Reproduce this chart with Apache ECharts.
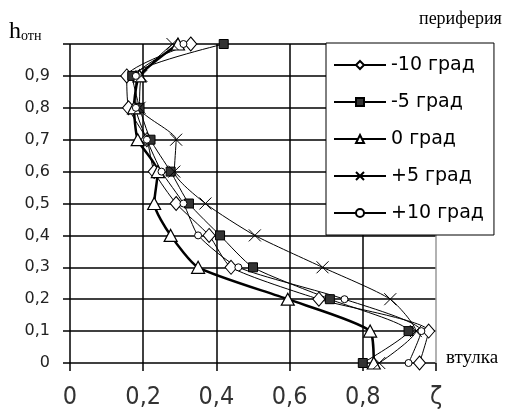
<!DOCTYPE html>
<html>
<head>
<meta charset="utf-8">
<script src="https://cdn.jsdelivr.net/npm/echarts@6/dist/echarts.min.js"></script>
<style>
html, body { margin: 0; background: #fff; }
#main { width: 520px; height: 412px; }
</style>
</head>
<body>
<div id="main"></div>
<script>
// относительная высота (ось Y)
var levels = [0, 0.1, 0.2, 0.3, 0.4, 0.5, 0.6, 0.7, 0.8, 0.9, 1.0];
// значения ζ для каждого угла, снизу вверх
var minus10 = [0.955, 0.98, 0.68, 0.44, 0.38, 0.29, 0.23, 0.21, 0.16, 0.155, 0.33];
var minus5  = [0.80, 0.925, 0.71, 0.50, 0.41, 0.325, 0.275, 0.22, 0.19, 0.17, 0.42];
var zero    = [0.83, 0.82, 0.595, 0.35, 0.275, 0.23, 0.24, 0.185, 0.175, 0.19, 0.295];
var plus5   = [0.845, 0.945, 0.875, 0.69, 0.505, 0.37, 0.285, 0.29, 0.19, 0.195, 0.28];
var plus10  = [0.925, 0.96, 0.75, 0.46, 0.35, 0.31, 0.25, 0.21, 0.18, 0.18, 0.31];
var names = ['-10 град', '-5 град', '0 град', '+5 град', '+10 град'];

function pairs(xs) {
    return xs.map(function (x, i) { return [x, levels[i]]; });
}
function comma(v) {
    if (v === 0) return '0';
    return v.toFixed(1).replace('.', ',');
}

var cross = 'path://M0,0L10,10M10,0L0,10';

var myChart = echarts.init(document.getElementById('main'));
var option = {
    backgroundColor: '#fff',
    animation: false,
    grid: { left: 70, right: 84, top: 44, bottom: 49 },
    xAxis: {
        type: 'value', min: 0, max: 1, interval: 0.2,
        axisLine: { show: false },
        axisTick: { show: true, length: 8, lineStyle: { color: '#000', width: 1.5 } },
        axisLabel: {
            margin: 22,
            color: '#333',
            fontFamily: 'Liberation Sans Narrow, DejaVu Sans Condensed, sans-serif',
            fontSize: 25,
            formatter: function (v) { return v > 0.99 ? 'ζ' : comma(v); }
        },
        splitLine: { lineStyle: { color: ['#000', '#000', '#000', '#000', '#000', '#999'], width: 1.5 } }
    },
    yAxis: {
        type: 'value', min: 0, max: 1, interval: 0.1,
        axisLine: { show: false },
        axisTick: { show: true, length: 7, lineStyle: { color: '#000', width: 1.5 } },
        axisLabel: {
            margin: 20,
            color: '#222',
            fontFamily: 'DejaVu Sans, sans-serif',
            fontSize: 16,
            formatter: function (v) { return v > 0.99 ? '' : comma(v); }
        },
        splitLine: { lineStyle: { color: '#000', width: 1.5 } }
    },
    legend: {
        orient: 'vertical',
        left: 326, top: 43,
        padding: [12, 10, 12, 7],
        itemGap: 17,
        itemWidth: 52, itemHeight: 10,
        backgroundColor: '#fff',
        borderColor: '#000', borderWidth: 1,
        textStyle: { color: '#000', fontFamily: 'DejaVu Sans, sans-serif', fontSize: 19, lineHeight: 20 },
        data: names
    },
    graphic: [
        { type: 'text', left: 419, top: 10,
          style: { text: 'периферия', fontFamily: 'Liberation Serif, serif', fontSize: 18, fill: '#000' } },
        { type: 'text', left: 446, top: 349,
          style: { text: 'втулка', fontFamily: 'Liberation Serif, serif', fontSize: 19, fill: '#000' } },
        { type: 'text', left: 9, top: 20,
          style: {
              text: '{h|h}{s|отн}',
              rich: {
                  h: { fontFamily: 'Liberation Serif, serif', fontSize: 24, fill: '#000' },
                  s: { fontFamily: 'Liberation Serif, serif', fontSize: 14, fill: '#000', padding: [9, 0, 0, 0] }
              }
          } }
    ],
    series: [{
        name: names[0], type: 'line', data: pairs(minus10), smooth: 0.2,
        symbol: 'diamond', symbolSize: [12, 14],
        lineStyle: { color: '#000', width: 1 },
        itemStyle: { color: '#fff', borderColor: '#000', borderWidth: 1 }
    }, {
        name: names[1], type: 'line', data: pairs(minus5), smooth: 0.2,
        symbol: 'rect', symbolSize: 9,
        lineStyle: { color: '#000', width: 1 },
        itemStyle: { color: '#333', borderColor: '#000', borderWidth: 1 }
    }, {
        name: names[2], type: 'line', data: pairs(zero), smooth: 0.2,
        symbol: 'triangle', symbolSize: [13, 12],
        lineStyle: { color: '#000', width: 2.5 },
        itemStyle: { color: '#fff', borderColor: '#000', borderWidth: 1.2 }
    }, {
        name: names[3], type: 'line', data: pairs(plus5), smooth: 0.2,
        symbol: cross, symbolSize: 12,
        lineStyle: { color: '#000', width: 1 },
        itemStyle: { color: 'none', borderColor: '#000', borderWidth: 1 }
    }, {
        name: names[4], type: 'line', data: pairs(plus10), smooth: 0.2,
        symbol: 'circle', symbolSize: 7,
        lineStyle: { color: '#000', width: 1 },
        itemStyle: { color: '#fff', borderColor: '#000', borderWidth: 1 }
    }]
};
myChart.setOption(option);
</script>
</body>
</html>
